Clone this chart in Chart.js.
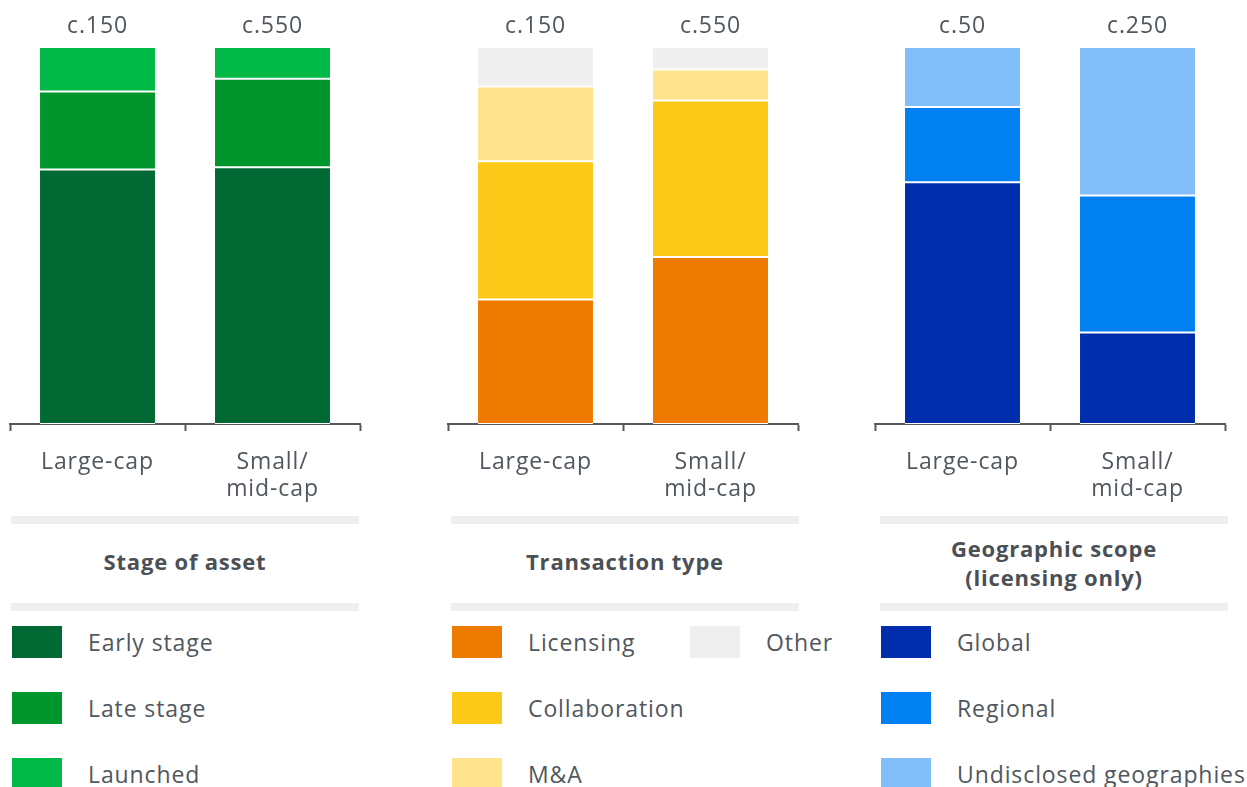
<!DOCTYPE html>
<html>
<head>
<meta charset="utf-8">
<script src="https://cdn.jsdelivr.net/npm/chart.js@4.4.1/dist/chart.umd.min.js"></script>
<style>
  html, body { margin: 0; padding: 0; background: #fff; }
  body { width: 1247px; height: 787px; position: relative; overflow: hidden; font-family: "Open Sans", sans-serif; color: #50575e; }
  canvas.panel { position: absolute; top: 0; }
  .sep { position: absolute; height: 8px; background: #efefef; }
  .title { position: absolute; width: 348px; text-align: center; font-weight: 700; font-size: 22px; line-height: 29px; color: #4a5056; letter-spacing: 0.8px; }
  .sw { position: absolute; width: 50px; height: 32px; }
  .lt { position: absolute; font-size: 23px; line-height: 32px; white-space: nowrap; color: #50575e; letter-spacing: 0.9px; }
</style>
</head>
<body>
<canvas id="c1" class="panel" width="370" height="510" style="left:0px"></canvas>
<canvas id="c2" class="panel" width="370" height="510" style="left:438px"></canvas>
<canvas id="c3" class="panel" width="370" height="510" style="left:865px"></canvas>
<div id="extras"></div>
<script>
// ---- Data ----
const categories = ['Large-cap', ['Small/', 'mid-cap']];

const stageTotals = ['c.150', 'c.550'];
const earlyStage = [67.5, 68.1];
const lateStage = [20.7, 23.5];
const launched = [11.8, 8.4];

const transactionTotals = ['c.150', 'c.550'];
const licensing = [33.0, 44.3];
const collaboration = [36.7, 41.5];
const mAndA = [19.8, 8.2];
const otherDeals = [10.5, 6.0];

const geoTotals = ['c.50', 'c.250'];
const globalScope = [64.1, 24.3];
const regionalScope = [20.0, 36.3];
const undisclosedScope = [15.9, 39.4];

const panelTitles = ['Stage of asset', 'Transaction type', 'Geographic scope\n(licensing only)'];

// ---- Styles ----
const TEXT = '#50575e';
const FONT = '"Open Sans", sans-serif';

const spacingPlugin = {
  id: 'spacing',
  beforeDraw(chart) { chart.ctx.letterSpacing = '0.9px'; }
};

const totalsPlugin = {
  id: 'totals',
  afterDatasetsDraw(chart, args, opts) {
    const ctx = chart.ctx;
    const meta = chart.getDatasetMeta(0);
    ctx.save();
    ctx.letterSpacing = '0.9px';
    ctx.font = '23px ' + FONT;
    ctx.fillStyle = TEXT;
    ctx.textAlign = 'center';
    ctx.textBaseline = 'middle';
    opts.labels.forEach((lab, i) => {
      const x = meta.data[i].x;
      ctx.fillText(lab, x, 26);
    });
    ctx.restore();
  }
};

function makeChart(id, series, totals) {
  new Chart(document.getElementById(id), {
    type: 'bar',
    data: {
      labels: categories,
      datasets: series.map(s => ({
        label: s.label,
        data: s.data,
        backgroundColor: s.color,
        borderColor: '#ffffff',
        borderWidth: { top: 1, bottom: 1, left: 0, right: 0 },
        borderSkipped: false,
        barPercentage: 1,
        categoryPercentage: 0.657
      }))
    },
    options: {
      responsive: false,
      animation: false,
      devicePixelRatio: 1,
      layout: { padding: { left: 10, right: 10, top: 47, bottom: 0 } },
      plugins: {
        legend: { display: false },
        tooltip: { enabled: false },
        totals: { labels: totals }
      },
      scales: {
        x: {
          stacked: true,
          afterFit: (scale) => { scale.height = 86; },
          border: { display: true, color: '#54595e', width: 2 },
          grid: { display: true, drawOnChartArea: false, drawTicks: true, tickLength: 7, tickColor: '#54595e', tickWidth: 2, offset: true },
          ticks: { color: TEXT, font: { family: FONT, size: 23, lineHeight: 1.18 }, padding: 18, maxRotation: 0 }
        },
        y: { stacked: true, display: false, min: 0, max: 100 }
      }
    },
    plugins: [spacingPlugin, totalsPlugin]
  });
}

const stageSeries = [
  { label: 'Early stage', data: earlyStage, color: '#006934' },
  { label: 'Late stage', data: lateStage, color: '#00962d' },
  { label: 'Launched', data: launched, color: '#00b947' }
];
const transactionSeries = [
  { label: 'Licensing', data: licensing, color: '#ee7b00' },
  { label: 'Collaboration', data: collaboration, color: '#fdc918' },
  { label: 'M&A', data: mAndA, color: '#ffe28b' },
  { label: 'Other', data: otherDeals, color: '#efefef' }
];
const geoSeries = [
  { label: 'Global', data: globalScope, color: '#002dab' },
  { label: 'Regional', data: regionalScope, color: '#0080f1' },
  { label: 'Undisclosed geographies', data: undisclosedScope, color: '#82befa' }
];

makeChart('c1', stageSeries, stageTotals);
makeChart('c2', transactionSeries, transactionTotals);
makeChart('c3', geoSeries, geoTotals);

// ---- Separators, titles, legends (HTML) ----
const extras = document.getElementById('extras');
const panelLeft = [11, 451, 880];
function add(cls, style, text) {
  const d = document.createElement('div');
  d.className = cls;
  Object.assign(d.style, style);
  if (text !== undefined) d.textContent = text;
  extras.appendChild(d);
  return d;
}
panelLeft.forEach((L, p) => {
  add('sep', { left: L + 'px', top: '516px', width: '348px' });
  add('sep', { left: L + 'px', top: '603px', width: '348px' });
  const lines = panelTitles[p].split('\n');
  const t = add('title', { left: L + 'px', top: (lines.length > 1 ? 534 : 547) + 'px' });
  t.innerHTML = lines.join('<br>');
});
const legendSets = [stageSeries, transactionSeries, geoSeries];
const rowTops = [626, 692, 758];
legendSets.forEach((series, p) => {
  series.forEach((s, i) => {
    const col = i < 3 ? 0 : 1;
    const row = i < 3 ? i : i - 3;
    const sx = panelLeft[p] + 1 + col * 238;
    add('sw', { left: sx + 'px', top: rowTops[row] + 'px', background: s.color });
    add('lt', { left: (sx + 76) + 'px', top: (rowTops[row]) + 'px' }, s.label);
  });
});
</script>
</body>
</html>
